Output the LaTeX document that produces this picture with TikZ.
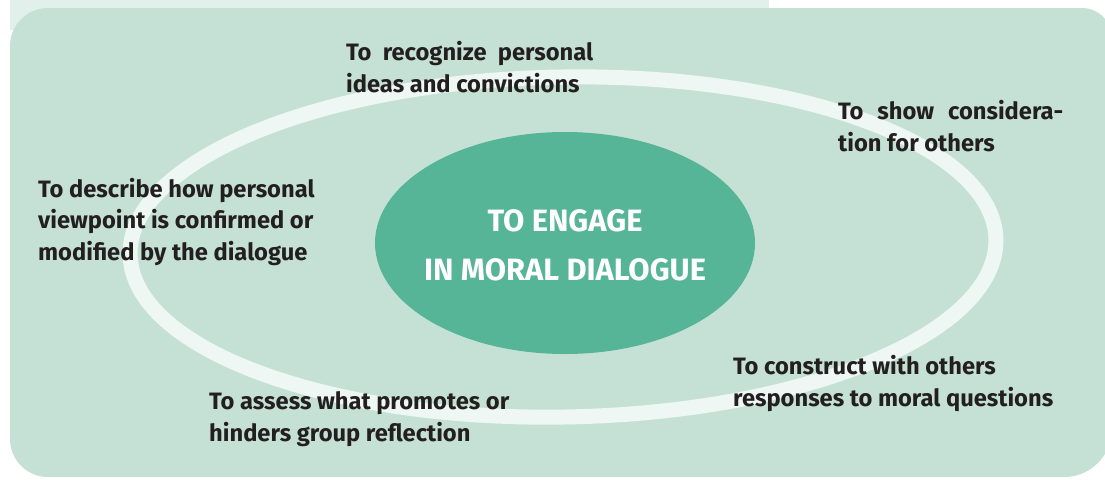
\documentclass[tikz,border=0pt]{standalone}
\usepackage{fontspec}
\setmainfont{Fira Sans}
\usetikzlibrary{shapes.geometric}
\definecolor{bgc}{HTML}{C5E1D6}
\definecolor{stripc}{HTML}{E1F0EA}
\definecolor{ringc}{HTML}{EEF7F3}
\definecolor{corec}{HTML}{56B596}
\definecolor{inkc}{HTML}{231F20}
\newlength\mylenA
\newlength\mylenB
\begin{document}
\settowidth\mylenA{\fontsize{10}{12}\selectfont\bfseries responses to moral questions}%
\pgfmathsetmacro\fszA{3200/\mylenA}%
\settowidth\mylenB{\fontsize{10}{12}\selectfont\bfseries IN MORAL DIALOGUE}%
\pgfmathsetmacro\fszB{2820/\mylenB}%
\begin{tikzpicture}[x=1pt,y=-1pt]
\tikzset{
  goal/.style={font=\fontsize{\fszA}{31.5}\selectfont\bfseries, text=inkc,
    inner sep=0pt, align=left, anchor=base west},
  corenode/.style={ellipse, fill=corec, minimum width=380pt, minimum height=222pt,
    inner sep=0pt},
  coretext/.style={text=white, align=center, inner sep=0pt, anchor=base,
    font=\fontsize{\fszB}{49}\selectfont\bfseries},
  ringline/.style={draw=ringc, line width=15pt}
}
\useasboundingbox (0,0) rectangle (1105,479);
\clip (0,0) rectangle (1105,479);
\fill[stripc] (10,0) rectangle (769,30);
\fill[bgc] (10,250) [rounded corners=38pt] -- (10,8) [rounded corners=30pt] -- (1112,8)
  [rounded corners=48pt] -- (1112,477) [rounded corners=38pt] -- (10,477) -- cycle;
\draw[ringline] (563,247) circle [x radius=433, y radius=170, rotate=1];
\node[corenode] (core) at (565,243) {};
\node[coretext] (coretxt) at (565,280) {TO ENGAGE\\IN MORAL DIALOGUE};
\node[goal] (t1) at (346,92) {\makebox[247pt][s]{To recognize personal}\\ideas and convictions};
\node[goal] (t2) at (838,151) {\makebox[225pt][s]{To show considera-}\\tion for others};
\node[goal] (t3) at (38,260) {To describe how personal\\viewpoint is confirmed or\\modified by the dialogue};
\node[goal] (t4) at (209,441) {To assess what promotes or\\hinders group reflection};
\node[goal] (t5) at (733,406) {To construct with others\\responses to moral questions};
\end{tikzpicture}
\end{document}
